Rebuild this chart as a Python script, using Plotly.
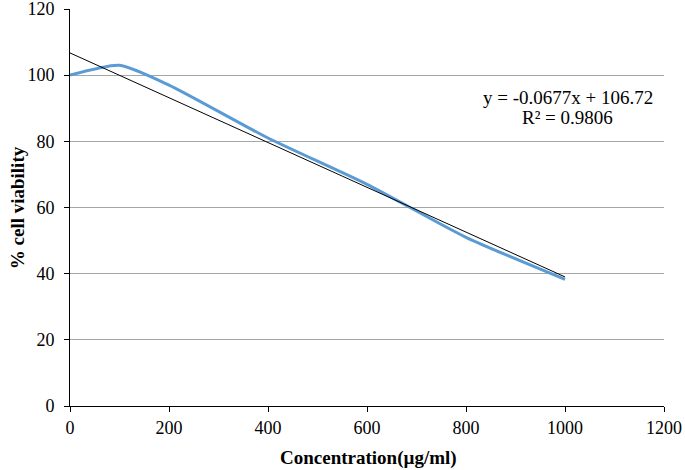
import plotly.graph_objects as go

concentration = [0, 100, 200, 400, 600, 800, 1000]
viability = [100, 103, 97, 81, 67, 51, 38.3]

trend_slope = -0.0677
trend_intercept = 106.72
trend_x = [0, 1000]
trend_y = [trend_intercept + trend_slope * x for x in trend_x]

x_ticks = [0, 200, 400, 600, 800, 1000, 1200]
y_ticks = [0, 20, 40, 60, 80, 100, 120]

eq_text = "y = -0.0677x + 106.72"
r2_text = "R² = 0.9806"
x_title = "<b>Concentration(µg/ml)</b>"
y_title = "<b>% cell viability</b>"

font_family = "Liberation Serif, Times New Roman, serif"

fig = go.Figure()
fig.add_trace(go.Scatter(
    x=concentration, y=viability, mode="lines",
    line=dict(color="#5B9BD5", width=3, shape="spline", smoothing=0.6),
    showlegend=False, hoverinfo="skip"))
fig.add_trace(go.Scatter(
    x=trend_x, y=trend_y, mode="lines",
    line=dict(color="#000000", width=1),
    showlegend=False, hoverinfo="skip"))

fig.add_annotation(
    x=1006, y=93.1, xref="x", yref="y", text=eq_text,
    showarrow=False, xanchor="center", yanchor="middle",
    font=dict(family=font_family, size=19, color="#000"))
fig.add_annotation(
    x=1006, y=87.1, xref="x", yref="y", text=r2_text,
    showarrow=False, xanchor="center", yanchor="middle",
    font=dict(family=font_family, size=19, color="#000"))

# axis titles
fig.add_annotation(
    x=0.502, y=-0.131, xref="paper", yref="paper", text=x_title,
    showarrow=False, xanchor="center", yanchor="middle",
    font=dict(family=font_family, size=19, color="#000"))
fig.add_annotation(
    x=-0.088, y=0.5, xref="paper", yref="paper", text=y_title,
    showarrow=False, xanchor="center", yanchor="middle", textangle=-90,
    font=dict(family=font_family, size=19, color="#000"))

fig.update_layout(
    width=685, height=470,
    margin=dict(l=70, r=21, t=9, b=64),
    paper_bgcolor="white", plot_bgcolor="white",
    font=dict(family=font_family, size=18, color="#000"),
)
fig.update_xaxes(
    range=[0, 1200], tickvals=x_ticks, ticktext=[str(v) for v in x_ticks],
    showgrid=False, zeroline=False,
    showline=True, linecolor="#000", linewidth=1,
    ticks="outside", ticklen=5, tickcolor="#000",
    ticklabeloverflow="allow", automargin=False,
)
fig.update_yaxes(
    range=[0, 120], tickvals=y_ticks, ticktext=[str(v) for v in y_ticks],
    showgrid=True, gridcolor="#A6A6A6", gridwidth=1, zeroline=False,
    showline=True, linecolor="#000", linewidth=1,
    ticks="outside", ticklen=5, tickcolor="#000", ticklabelstandoff=6,
    ticklabeloverflow="allow", automargin=False,
)

fig.write_html("out.html", config={"displayModeBar": False},
               post_script="document.body.style.margin='0';")
